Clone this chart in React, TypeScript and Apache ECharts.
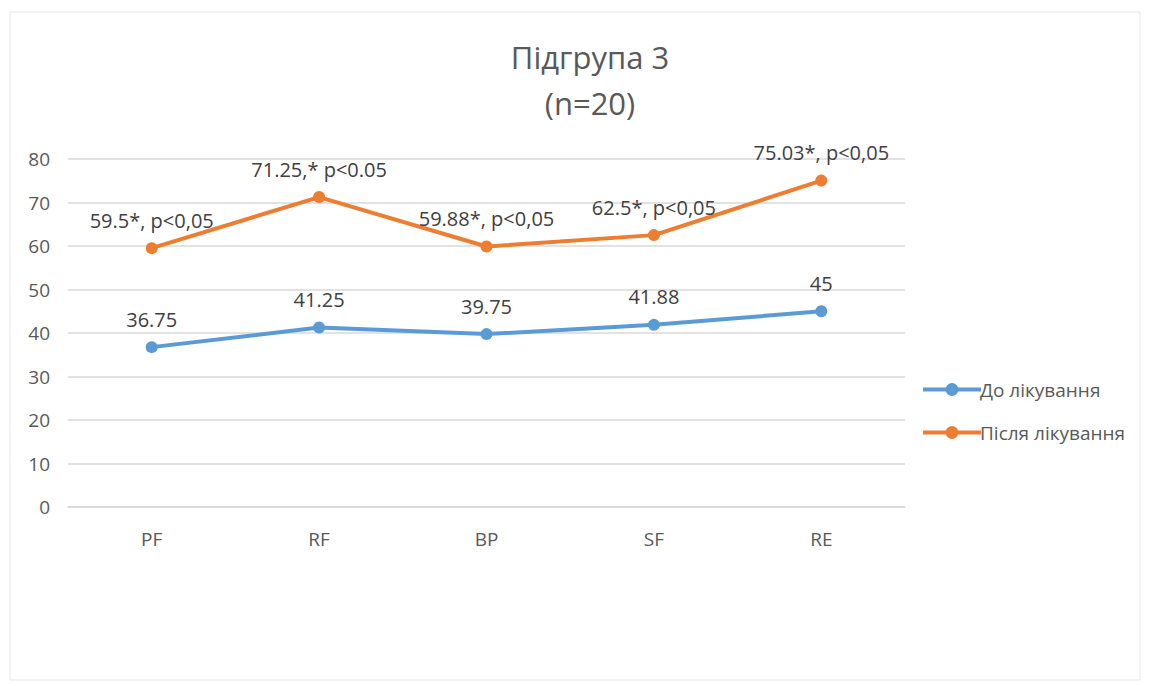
import React, { useEffect, useRef } from "react";
import * as echarts from "echarts";

const categories = ["PF", "RF", "BP", "SF", "RE"];
const beforeValues = [36.75, 41.25, 39.75, 41.88, 45];
const afterValues = [59.5, 71.25, 59.88, 62.5, 75.03];
const beforeLabels = ["36.75", "41.25", "39.75", "41.88", "45"];
const afterLabels = [
  "59.5*, p<0,05",
  "71.25,* p<0.05",
  "59.88*, p<0,05",
  "62.5*, p<0,05",
  "75.03*, p<0,05",
];
const seriesNames = ["До лікування", "Після лікування"];
const titleText = "Підгрупа 3\n(n=20)";

const BLUE = "#5B9BD5";
const ORANGE = "#ED7D31";
const TEXT = "#595959";
const AXIS_FONT = "'Open Sans', 'Noto Sans', sans-serif";
const LABEL_FONT = "'Open Sans', 'Noto Sans', sans-serif";

export default function App() {
  const ref = useRef<HTMLDivElement>(null);
  useEffect(() => {
    document.body.style.margin = "0";
    if (!ref.current) return;
    const chart = echarts.init(ref.current, null, { renderer: "svg" });
    const mkSeries = (name: string, values: number[], labels: string[], color: string) => ({
      name,
      type: "line",
      data: values,
      symbol: "circle",
      symbolSize: 12,
      lineStyle: { color, width: 4 },
      itemStyle: { color },
      label: {
        show: true,
        position: "top",
        distance: 12,
        color: "#404040",
        fontFamily: LABEL_FONT,
        fontSize: 20,
        formatter: (p: any) => labels[p.dataIndex],
      },
    });
    chart.setOption({
      animation: false,
      backgroundColor: "#ffffff",
      title: {
        text: titleText,
        left: 585,
        top: 29,
        textAlign: "center",
        textStyle: {
          color: TEXT,
          fontFamily: AXIS_FONT,
          fontSize: 31,
          fontWeight: "normal",
          lineHeight: 46,
        },
      },
      legend: {
        orient: "vertical",
        left: 916,
        top: 375,
        itemWidth: 58,
        itemHeight: 16,
        itemGap: 24,
        lineStyle: { width: 4 },
        textStyle: { color: TEXT, fontFamily: LABEL_FONT, fontSize: 19, padding: [0, 0, 0, -6] },
        data: seriesNames,
      },
      grid: { left: 68, right: 245, top: 159, bottom: 179, containLabel: false },
      xAxis: {
        type: "category",
        data: categories,
        boundaryGap: true,
        axisLine: { show: true, lineStyle: { color: "#d9d9d9", width: 1.5 } },
        axisTick: { show: false },
        axisLabel: { color: TEXT, fontFamily: AXIS_FONT, fontSize: 19, margin: 22 },
      },
      yAxis: {
        type: "value",
        min: 0,
        max: 80,
        interval: 10,
        axisLine: { show: false },
        axisTick: { show: false },
        axisLabel: { color: TEXT, fontFamily: AXIS_FONT, fontSize: 19, margin: 18 },
        splitLine: { lineStyle: { color: "#d9d9d9", width: 1.5 } },
      },
      graphic: [
        {
          type: "rect",
          shape: { x: 10, y: 12, width: 1130, height: 668 },
          style: { fill: "none", stroke: "#e6e6e6", lineWidth: 1 },
          silent: true,
        },
      ],
      series: [
        mkSeries(seriesNames[0], beforeValues, beforeLabels, BLUE),
        mkSeries(seriesNames[1], afterValues, afterLabels, ORANGE),
      ],
    });
    return () => chart.dispose();
  }, []);
  return <div ref={ref} style={{ width: 1150, height: 686 }} />;
}
